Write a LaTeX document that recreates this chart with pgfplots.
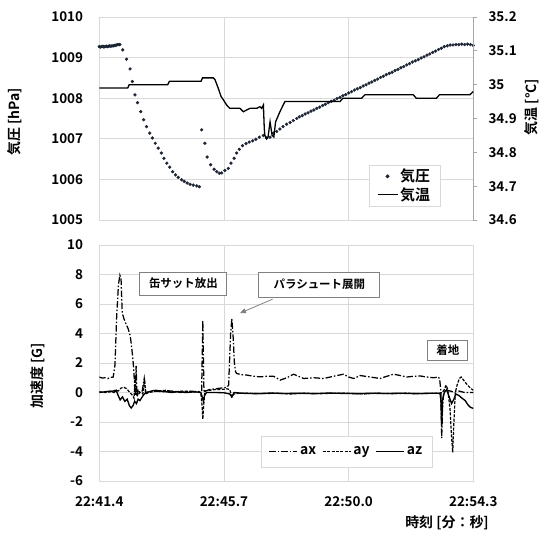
\documentclass[border=0pt]{standalone}
\usepackage{pgfplots}
\pgfplotsset{compat=1.18}
\usetikzlibrary{arrows.meta}
\usepackage{fontspec}
\setmainfont{Noto Sans CJK JP}[BoldFont={Noto Sans CJK JP Bold}]
\definecolor{gridc}{HTML}{D9D9D9}
\definecolor{axc}{HTML}{A6A6A6}
\definecolor{boxc}{HTML}{808080}
\definecolor{dotc}{HTML}{1C2333}
\newcommand{\fs}[1]{\fontsize{#1}{#1}\selectfont\bfseries}

\pgfplotsset{
  base/.style={scale only axis, width=374bp, xmin=41.4, xmax=54.3,
    xtick={41.4,45.7,50.0,54.3},
    tick label style={font=\fs{13.5}},
    /pgf/number format/assume math mode=true},
}

\begin{document}
\begin{tikzpicture}[x=1bp,y=1bp]
\path (0,0) rectangle (540,536);

% ---------------- top: pressure ----------------
\begin{axis}[base, at={(99.3bp,316bp)}, anchor=south west, height=203bp,
  ymin=1005, ymax=1010,
  ytick={1005,1006,1007,1008,1009,1010},
  yticklabels={1005,1006,1007,1008,1009,1010}, xticklabels={},
  grid=major, grid style={gridc, line width=0.8bp},
  axis line style={gridc, line width=0.8bp},
  major tick length=0pt, tick style={draw=none},
  yticklabel style={anchor=east, inner sep=0pt}, yticklabel shift=16bp,
  legend style={at={(0.816,0.17)}, anchor=center, draw=gridc, fill=white,
    font=\fs{15}, inner xsep=8bp, inner ysep=2bp},
  legend cell align=left]
\addplot[only marks, mark=*, mark size=1.45bp, dotc,
  legend image code/.code={\fill[dotc] (10bp,0bp) circle (1.8bp);}]
 coordinates {
 (41.40,1009.27) (41.44,1009.26) (41.48,1009.27) (41.52,1009.28) (41.56,1009.26)
 (41.60,1009.27) (41.64,1009.28) (41.68,1009.27) (41.72,1009.28) (41.76,1009.29)
 (41.80,1009.28) (41.84,1009.29) (41.88,1009.29) (41.92,1009.30) (41.96,1009.30)
 (42.00,1009.31) (42.04,1009.32) (42.08,1009.32) (42.11,1009.32)
 (42.21,1009.19) (42.34,1008.96) (42.46,1008.72) (42.54,1008.41) (42.63,1008.08)
 (42.72,1007.89) (42.83,1007.67) (42.93,1007.47) (43.03,1007.30) (43.14,1007.14)
 (43.23,1007.02) (43.33,1006.89) (43.43,1006.77) (43.54,1006.65) (43.63,1006.52)
 (43.73,1006.40) (43.83,1006.30) (43.93,1006.19) (44.03,1006.11) (44.12,1006.05)
 (44.24,1005.99) (44.33,1005.95) (44.43,1005.91) (44.53,1005.88) (44.64,1005.86)
 (44.76,1005.84) (44.85,1005.82)
 (44.93,1007.22) (45.04,1006.89) (45.12,1006.55) (45.24,1006.36) (45.36,1006.25)
 (45.45,1006.19) (45.54,1006.15) (45.62,1006.16) (45.73,1006.22) (45.85,1006.27)
 (45.94,1006.40) (46.05,1006.52) (46.14,1006.65) (46.23,1006.74) (46.34,1006.83)
 (46.46,1006.88) (46.57,1006.92) (46.69,1006.95) (46.80,1006.99) (46.92,1007.04)
 (47.06,1007.08) (47.17,1007.02) (47.29,1007.04) (47.40,1007.14) (47.52,1007.18)
 (47.63,1007.24) (47.74,1007.30) (47.86,1007.36) (47.98,1007.40) (48.09,1007.45)
 (48.21,1007.50) (48.30,1007.54) (48.40,1007.57) (48.50,1007.61) (48.60,1007.64)
 (48.70,1007.68) (48.80,1007.71) (48.90,1007.75) (49.00,1007.78) (49.10,1007.82)
 (49.20,1007.85) (49.30,1007.89) (49.40,1007.92) (49.50,1007.95) (49.60,1007.99)
 (49.70,1008.02) (49.80,1008.06) (49.90,1008.09) (50.00,1008.13) (50.10,1008.16)
 (50.20,1008.20) (50.30,1008.23) (50.40,1008.26) (50.50,1008.30) (50.60,1008.33)
 (50.70,1008.37) (50.80,1008.40) (50.90,1008.44) (51.00,1008.47) (51.10,1008.51)
 (51.20,1008.54) (51.30,1008.58) (51.40,1008.61) (51.50,1008.64) (51.60,1008.68)
 (51.70,1008.71) (51.80,1008.75) (51.90,1008.78) (52.00,1008.82) (52.10,1008.85)
 (52.20,1008.89) (52.30,1008.92) (52.40,1008.95) (52.50,1008.99) (52.60,1009.02)
 (52.70,1009.06) (52.80,1009.09) (52.90,1009.13) (53.00,1009.16) (53.10,1009.20)
 (53.20,1009.23) (53.30,1009.27) (53.40,1009.29) (53.50,1009.31) (53.60,1009.31)
 (53.70,1009.32) (53.80,1009.32) (53.90,1009.33) (54.00,1009.32) (54.10,1009.33)
 (54.20,1009.32) (54.30,1009.30)
 };
\addlegendentry{気圧}
\addlegendimage{legend image code/.code={\draw[black, line width=1.3bp] (0bp,0bp) -- (20bp,0bp);}}
\addlegendentry{気温}
\end{axis}

% ---------------- top: temperature (right axis) ----------------
\begin{axis}[base, at={(99.3bp,316bp)}, anchor=south west, height=203bp,
  ymin=34.6, ymax=35.2, axis y line*=right, axis x line=none,
  ytick={34.6,34.7,34.8,34.9,35.0,35.1,35.2},
  yticklabels={34.6,34.7,34.8,34.9,35,35.1,35.2},
  y axis line style={axc, line width=0.8bp},
  ytick style={axc, line width=0.8bp}, major tick length=4bp, tick align=outside,
  yticklabel style={anchor=west, inner sep=0pt}, yticklabel shift=11bp]
\addplot[black, line width=1.3bp] coordinates {
 (41.40,34.99) (42.38,34.99) (42.43,35.00) (43.76,35.00) (43.82,35.01)
 (44.91,35.01) (44.96,35.02) (45.33,35.02) (45.39,35.015) (45.50,34.99)
 (45.60,34.965) (45.68,34.955) (45.79,34.94) (45.90,34.93) (46.25,34.93)
 (46.37,34.92) (46.48,34.925) (46.60,34.93) (46.83,34.93) (46.94,34.935)
 (47.00,34.93) (47.06,34.94) (47.09,34.87) (47.11,34.85) (47.17,34.84)
 (47.22,34.845) (47.29,34.89) (47.36,34.85) (47.42,34.845) (47.48,34.89)
 (47.63,34.92) (47.80,34.95) (49.70,34.95) (49.80,34.96) (50.45,34.96)
 (50.56,34.97) (52.23,34.97) (52.33,34.96) (53.03,34.96) (53.13,34.97)
 (54.18,34.97) (54.30,34.98)
 };
\end{axis}

% ---------------- bottom: acceleration ----------------
\begin{axis}[base, at={(99.3bp,55bp)}, anchor=south west, height=236bp,
  ymin=-6, ymax=10, ytick={-6,-4,-2,0,2,4,6,8,10},
  yticklabels={-6,-4,-2,0,2,4,6,8,10},
  xticklabels={22:41.4,22:45.7,22:50.0,22:54.3},
  grid=major, grid style={gridc, line width=0.8bp},
  axis line style={gridc, line width=0.8bp},
  major tick length=0pt, tick style={draw=none},
  yticklabel style={anchor=east, inner sep=0pt}, yticklabel shift=16bp,
  xticklabel style={anchor=north, inner sep=0pt}, xticklabel shift=15bp,
  legend style={at={(0.661,0.125)}, anchor=center, draw=gridc, fill=white,
    font=\fs{14}, inner xsep=8bp, inner ysep=9bp, legend columns=3,
    /tikz/every even column/.append style={column sep=4bp}},
  legend image code/.code={\draw[#1] (0bp,0bp) -- (28bp,0bp);}]
\addplot[black, line width=1.25bp, dash pattern=on 6.5bp off 2bp on 1.5bp off 2bp] coordinates {
 (41.40,1.05) (41.50,0.98) (41.60,1.00) (41.70,0.95) (41.80,1.02) (41.88,1.05)
 (41.94,1.85) (42.00,5.2) (42.06,7.3) (42.11,7.95) (42.15,7.7) (42.19,5.4)
 (42.25,5.0) (42.31,4.7) (42.40,4.3) (42.47,3.8) (42.52,3.0) (42.57,2.0)
 (42.61,0.8) (42.64,-0.2) (42.67,1.8) (42.70,-0.3) (42.74,0.2) (42.80,0.0)
 (42.88,0.1) (42.95,0.95) (43.00,0.0) (43.10,0.05) (43.30,0.1) (43.60,0.05)
 (43.90,0.1) (44.20,0.0) (44.50,0.1) (44.80,0.05) (44.93,0.1) (44.97,4.9)
 (45.01,0.0) (45.06,0.1) (45.20,0.2) (45.40,0.25) (45.60,0.3) (45.80,0.35)
 (45.86,0.5) (45.93,4.0) (45.97,5.0) (46.01,4.0) (46.06,2.0) (46.10,1.4)
 (46.14,1.29) (46.31,1.2) (46.49,1.18) (46.72,1.1) (46.95,1.06) (47.18,1.1)
 (47.41,1.1) (47.64,0.84) (47.87,1.0) (48.10,1.24) (48.27,1.1) (48.45,0.95)
 (48.79,1.0) (49.14,0.95) (49.48,1.1) (49.82,1.24) (50.00,1.05) (50.17,0.95)
 (50.40,1.15) (50.74,1.05) (51.09,0.95) (51.32,1.1) (51.55,1.24) (51.78,1.15)
 (52.01,1.05) (52.24,1.1) (52.47,1.12) (52.70,1.05) (52.93,1.0) (53.10,1.05)
 (53.14,0.9) (53.18,0.1) (53.21,-3.1) (53.24,-1.0) (53.28,0.1) (53.40,0.15)
 (53.60,0.05) (53.80,0.1) (54.00,0.0) (54.30,0.0)
 };
\addlegendentry{ax}
\addplot[black, line width=1.2bp, dash pattern=on 3bp off 1.4bp] coordinates {
 (41.40,0.05) (41.60,0.00) (41.80,0.05) (41.95,0.15) (42.05,0.1) (42.15,0.3)
 (42.25,0.35) (42.35,0.25) (42.45,0.0) (42.55,-0.2) (42.60,-0.4) (42.63,1.2)
 (42.66,0.0) (42.72,-0.2) (42.80,0.0) (42.90,-0.1) (42.96,0.9) (43.00,-0.1)
 (43.10,0.0) (43.40,0.1) (43.70,0.15) (44.00,0.05) (44.30,0.1) (44.60,0.05)
 (44.90,0.0) (44.94,-0.8) (44.97,-1.8) (45.00,-0.9) (45.04,0.1) (45.20,0.15)
 (45.40,0.2) (45.60,0.2) (45.80,0.25) (45.90,0.2) (45.97,-0.3) (46.05,-0.1)
 (46.20,-0.05) (46.50,-0.05) (47.00,-0.08) (47.50,-0.05) (48.00,-0.1)
 (48.50,-0.05) (49.00,-0.08) (49.50,-0.05) (50.00,-0.05) (50.50,-0.1)
 (51.00,-0.05) (51.50,-0.08) (52.00,-0.05) (52.50,-0.08) (53.00,-0.05)
 (53.15,-0.05) (53.22,0.0) (53.30,0.2) (53.36,0.5) (53.42,0.2) (53.50,-1.2)
 (53.55,-3.0) (53.59,-4.05) (53.63,-2.0) (53.68,0.0) (53.74,0.5) (53.82,0.95)
 (53.88,1.05) (53.96,0.85) (54.10,0.5) (54.20,0.3) (54.30,0.15)
 };
\addlegendentry{ay}
\addplot[black, line width=1.35bp] coordinates {
 (41.40,0.0) (41.60,0.05) (41.80,0.1) (41.90,0.0) (41.98,0.15) (42.05,-0.2)
 (42.12,-0.5) (42.20,-0.3) (42.28,-0.6) (42.36,-0.45) (42.44,-0.9) (42.50,-1.05)
 (42.56,-0.9) (42.62,-0.6) (42.68,-0.75) (42.74,-0.45) (42.80,-0.55) (42.88,-0.3)
 (42.95,-0.1) (43.05,0.0) (43.20,0.1) (43.35,0.15) (43.50,0.1) (43.70,0.05)
 (43.90,0.0) (44.10,0.05) (44.40,0.0) (44.70,0.05) (44.90,0.0) (44.95,-0.3)
 (44.99,-0.6) (45.03,-0.2) (45.10,0.0) (45.40,0.0) (45.70,-0.02) (45.90,-0.1)
 (45.97,-0.3) (46.05,0.0) (46.30,-0.05) (46.80,-0.08) (47.30,-0.04) (47.80,-0.07)
 (48.30,-0.05) (48.80,-0.08) (49.30,-0.04) (49.80,-0.06) (50.30,-0.08)
 (50.80,-0.05) (51.30,-0.07) (51.80,-0.05) (52.30,-0.08) (52.80,-0.05)
 (53.15,-0.05) (53.18,-0.5) (53.21,-2.3) (53.24,-0.5) (53.30,0.0) (53.38,0.2)
 (53.45,-0.2) (53.55,-0.75) (53.62,-0.5) (53.70,-0.1) (53.80,-0.2) (53.92,-0.4)
 (54.02,-0.55) (54.12,-0.85) (54.20,-1.0) (54.30,-1.08)
 };
\addlegendentry{az}
\node[draw=boxc, fill=white, line width=0.8bp, font=\fs{11.5}, minimum width=87bp, minimum height=23bp, inner sep=0pt]
  at (axis cs:44.30,7.39) {缶サット放出};
\node[draw=boxc, fill=white, line width=0.8bp, font=\fs{11.5}, minimum width=121bp, minimum height=25bp, inner sep=0pt]
  at (axis cs:48.99,7.32) {パラシュート展開};
\node[draw=boxc, fill=white, line width=0.8bp, font=\fs{11.5}, minimum width=40bp, minimum height=20bp, inner sep=0pt]
  at (axis cs:53.42,2.87) {着地};
\draw[boxc, line width=0.8bp, -{Triangle[width=5bp,length=6bp]}] (axis cs:47.38,6.33) -- (axis cs:46.25,5.38);
\end{axis}

% ---------------- axis titles ----------------
\node[rotate=90, font=\fs{14}, inner sep=0pt] at (15,414) {気圧 [hPa]};
\node[rotate=90, font=\fs{14}, inner sep=0pt] at (532,429) {気温 [°C]};
\node[rotate=90, font=\fs{14}, inner sep=0pt] at (38,160) {加速度 [G]};
\node[font=\fs{14}, inner sep=0pt] at (447,13) {時刻 [分：秒]};
\end{tikzpicture}
\end{document}
